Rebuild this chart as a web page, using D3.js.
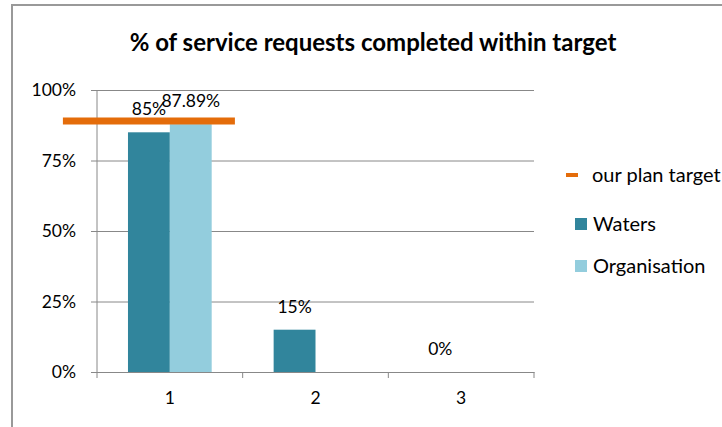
<!DOCTYPE html>
<html>
<head>
<meta charset="utf-8">
<title>% of service requests completed within target</title>
<script src="https://d3js.org/d3.v7.min.js"></script>
<style>
  body { margin: 0; background: #fff; }
  text { font-family: Lato, "Open Sans", sans-serif; fill: #000; }
</style>
</head>
<body>
<div id="chart"></div>
<script>
// data
var categories = ["1", "2", "3"];
var seriesNames = ["Waters", "Organisation"];
var waters = [85, 15, 0];
var organisation = [87.89, null, null];
var labelsWaters = ["85%", "15%", "0%"];
var labelsOrganisation = ["87.89%", null, null];
var planTarget = 89;
var yTicks = [0, 25, 50, 75, 100];

var colors = { Waters: "#31859c", Organisation: "#93cddd", target: "#e46c0a" };

var W = 722, H = 427;
var margin = { top: 90, right: 188, bottom: 55, left: 97 };
var width = W - margin.left - margin.right,
    height = H - margin.top - margin.bottom;

var svg = d3.select("#chart").append("svg")
    .attr("width", W).attr("height", H);

// chart border
svg.append("rect")
    .attr("x", 12).attr("y", 5)
    .attr("width", W + 20).attr("height", H + 20)
    .attr("fill", "none").attr("stroke", "#999").attr("stroke-width", 2);

svg.append("text")
    .attr("x", 373).attr("y", 51)
    .attr("text-anchor", "middle")
    .style("font-weight", "bold").style("font-size", "24px")
    .text("% of service requests completed within target");

var g = svg.append("g")
    .attr("transform", "translate(" + margin.left + "," + margin.top + ")");

var x0 = d3.scaleBand().domain(categories).range([0, width]);
var x1 = d3.scaleBand().domain(seriesNames)
    .range([0, x0.bandwidth()]).paddingOuter(0.74);
var y = d3.scaleLinear().domain([0, 100]).range([height, 0]);

// gridlines + y axis
var yAxis = g.append("g")
    .call(d3.axisLeft(y).tickValues(yTicks).tickFormat(function(d) { return d + "%"; })
      .tickSize(-width).tickPadding(21));
yAxis.select(".domain").remove();
yAxis.selectAll(".tick line").attr("stroke", "#888").attr("x1", -6);
yAxis.selectAll(".tick text").style("font-size", "17.5px").attr("fill", "#000");

g.append("line")
    .attr("x1", 0).attr("x2", 0).attr("y1", 0).attr("y2", height)
    .attr("stroke", "#888");

// x axis
var xAxis = g.append("g")
    .attr("transform", "translate(0," + height + ")")
    .call(d3.axisBottom(x0).tickSize(0).tickPadding(20));
xAxis.select(".domain").attr("stroke", "#888");
xAxis.selectAll(".tick text").style("font-size", "17.5px").attr("fill", "#000");
var edges = categories.map(function(c) { return x0(c); }).concat([width]);
xAxis.selectAll(".edge").data(edges).enter().append("line")
    .attr("x1", function(d) { return d; }).attr("x2", function(d) { return d; })
    .attr("y1", 0).attr("y2", 6).attr("stroke", "#888");

// bars
var rows = categories.map(function(c, i) {
  return [
    { cat: c, key: "Waters", value: waters[i], label: labelsWaters[i] },
    { cat: c, key: "Organisation", value: organisation[i], label: labelsOrganisation[i] }
  ];
});
var flat = [].concat.apply([], rows).filter(function(d) { return d.value !== null; });

g.selectAll(".bar").data(flat).enter().append("rect")
    .attr("x", function(d) { return x0(d.cat) + x1(d.key); })
    .attr("y", function(d) { return y(d.value); })
    .attr("width", x1.bandwidth())
    .attr("height", function(d) { return height - y(d.value); })
    .attr("fill", function(d) { return colors[d.key]; });

g.selectAll(".lbl").data(flat).enter().append("text")
    .attr("x", function(d) { return x0(d.cat) + x1(d.key) + x1.bandwidth() / 2; })
    .attr("y", function(d) { return y(d.value) - 17; })
    .attr("text-anchor", "middle")
    .style("font-size", "17.5px")
    .text(function(d) { return d.label; });

// plan target marker on category 1
var tx = x0(categories[0]) + x1("Waters") + x1.bandwidth() / 2;
g.append("line")
    .attr("x1", tx - 86).attr("x2", tx + 86)
    .attr("y1", y(planTarget)).attr("y2", y(planTarget))
    .attr("stroke", colors.target).attr("stroke-width", 7);

// legend
var lg = svg.append("g");
lg.append("line")
    .attr("x1", 566).attr("x2", 578).attr("y1", 175).attr("y2", 175)
    .attr("stroke", colors.target).attr("stroke-width", 4);
lg.append("text").attr("x", 592).attr("y", 182).style("font-size", "20px").text("our plan target");
seriesNames.forEach(function(s, i) {
  lg.append("rect")
      .attr("x", 575).attr("y", 218 + i * 42)
      .attr("width", 12).attr("height", 12)
      .attr("fill", colors[s]);
  lg.append("text").attr("x", 593).attr("y", 231 + i * 42)
      .style("font-size", "20px").text(s);
});
</script>
</body>
</html>
